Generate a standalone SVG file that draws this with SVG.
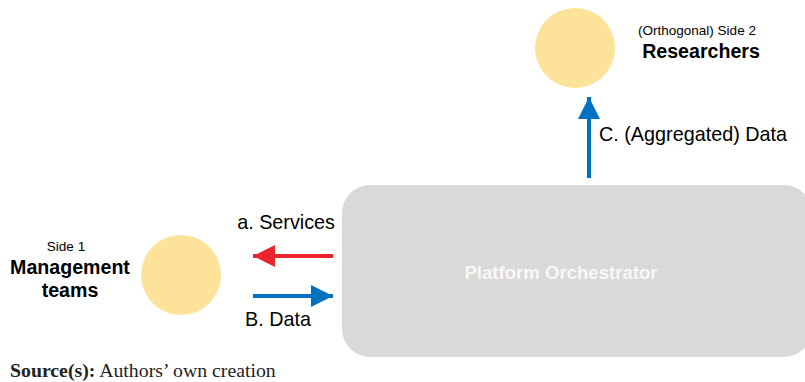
<svg xmlns="http://www.w3.org/2000/svg" width="805" height="382" viewBox="0 0 805 382">
  <style>
    .sans { font-family: "Liberation Sans", Arial, sans-serif; fill: #000; }
    .small { font-size: 13.5px; }
    .label { font-size: 19.8px; }
    .title { font-size: 19.6px; font-weight: bold; }
    .actor { fill: #FDE29A; }
    .conn { stroke-width: 4; fill: none; }
  </style>
  <defs>
    <marker id="headRed" viewBox="0 0 10 10" refX="10" refY="5" markerWidth="5.5" markerHeight="5.5" markerUnits="strokeWidth" orient="auto">
      <path d="M0,0 L10,5 L0,10 z" fill="#E8262B"/>
    </marker>
    <marker id="headBlue" viewBox="0 0 10 10" refX="10" refY="5" markerWidth="5.5" markerHeight="5.5" markerUnits="strokeWidth" orient="auto">
      <path d="M0,0 L10,5 L0,10 z" fill="#0070C0"/>
    </marker>
  </defs>

  <g id="orchestrator">
    <rect x="342" y="185" width="470" height="172" rx="28" ry="28" fill="#DAD9D7"/>
    <text class="sans" x="561" y="279" text-anchor="middle" style="fill:#F7F7F7;font-size:18.6px;font-weight:bold">Platform Orchestrator</text>
  </g>

  <g id="researchers">
    <circle class="actor" cx="575" cy="48" r="40"/>
    <text class="sans small" x="697" y="35" text-anchor="middle">(Orthogonal) Side 2</text>
    <text class="sans title" x="701" y="58" text-anchor="middle">Researchers</text>
  </g>

  <g id="management">
    <circle class="actor" cx="181" cy="275" r="40"/>
    <text class="sans small" x="66" y="251" text-anchor="middle">Side 1</text>
    <text class="sans title" x="70" y="274" text-anchor="middle">Management</text>
    <text class="sans title" x="70" y="297" text-anchor="middle">teams</text>
  </g>

  <g id="connectors">
    <line class="conn" x1="333" y1="256" x2="253" y2="256" stroke="#E8262B" marker-end="url(#headRed)"/>
    <text class="sans label" x="335" y="229" text-anchor="end">a. Services</text>
    <line class="conn" x1="253" y1="296" x2="333" y2="296" stroke="#0070C0" marker-end="url(#headBlue)"/>
    <text class="sans label" x="245" y="326">B. Data</text>
    <line class="conn" x1="589" y1="178" x2="589" y2="97" stroke="#0070C0" marker-end="url(#headBlue)"/>
    <text class="sans label" x="599" y="141">C. (Aggregated) Data</text>
  </g>

  <text x="10" y="377" style="font-family:'Liberation Serif','Times New Roman',serif;font-size:19.8px;fill:#222"><tspan font-weight="bold">Source(s):</tspan> Authors’ own creation</text>
</svg>
